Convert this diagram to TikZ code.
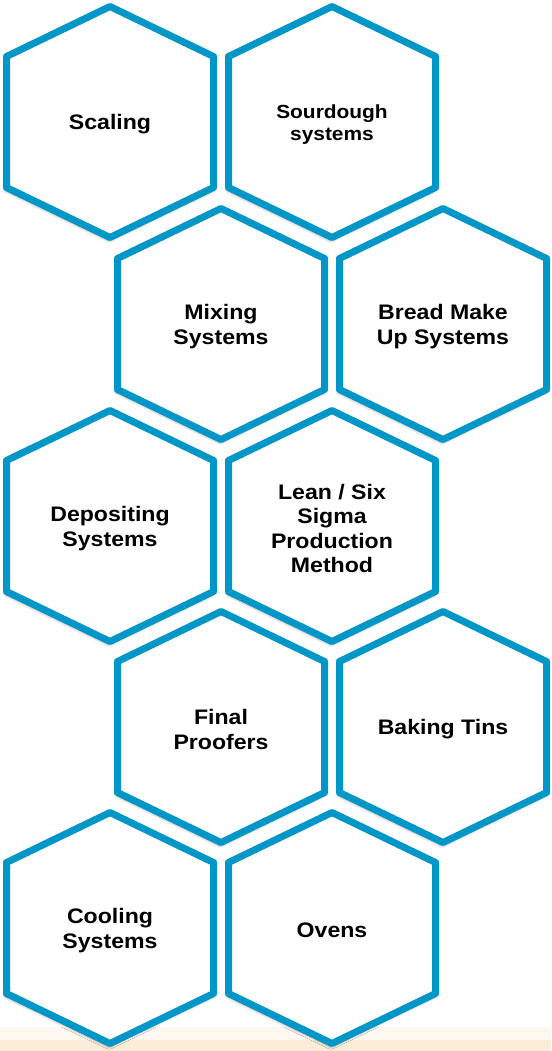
\documentclass[tikz,border=0pt]{standalone}
\usepackage{fontspec}
\setmainfont{Liberation Sans}[FakeStretch=1.1]
\usetikzlibrary{shadows.blur}
\definecolor{hexblue}{RGB}{0,150,199}
\definecolor{peach}{RGB}{252,236,218}
\definecolor{lightpeach}{RGB}{255,248,240}
\tikzset{
  hexline/.style={draw=hexblue, line width=7pt, line join=round, fill=white,
    blur shadow={shadow xshift=-1pt, shadow yshift=-3pt, shadow blur radius=3pt, shadow opacity=45}},
  hextext/.style={align=center, font=\fontsize{21}{24.5}\selectfont\bfseries, text=black, inner sep=0pt, yshift=-2.5pt},
  smalltext/.style={align=center, font=\fontsize{19}{22}\selectfont\bfseries, text=black, inner sep=0pt, yshift=-2.5pt}
}
\newcommand{\hexat}[1]{%
  \path[hexline] (#1) ++(0,-115.5) -- ++(103.5,50) -- ++(0,131) -- ++(-103.5,50) -- ++(-103.5,-50) -- ++(0,-131) -- cycle;}
\begin{document}
\begin{tikzpicture}[x=1pt,y=-1pt]
\useasboundingbox (0,0) rectangle (551,1051);
\fill[lightpeach] (0,1027) rectangle (551,1040);
\fill[peach] (0,1040) rectangle (551,1051);
\coordinate (c1) at (110,122);
\coordinate (c2) at (332,122);
\coordinate (c3) at (221,324);
\coordinate (c4) at (443,324);
\coordinate (c5) at (110,526);
\coordinate (c6) at (332,526);
\coordinate (c7) at (221,727);
\coordinate (c8) at (443,727);
\coordinate (c9) at (110,928);
\coordinate (c10) at (332,928);
\foreach \i in {1,...,10}{\hexat{c\i}}
\node[hextext] (scaling) at (c1) {Scaling};
\node[smalltext] (sourdough) at (c2) {Sourdough\\systems};
\node[hextext] (mixing) at (c3) {Mixing\\Systems};
\node[hextext] (bread) at (c4) {Bread Make\\Up Systems};
\node[hextext] (depositing) at (c5) {Depositing\\Systems};
\node[hextext] (lean) at (c6) {Lean / Six\\Sigma\\Production\\Method};
\node[hextext] (final) at (c7) {Final\\Proofers};
\node[hextext] (baking) at (c8) {Baking Tins};
\node[hextext] (cooling) at (c9) {Cooling\\Systems};
\node[hextext] (ovens) at (c10) {Ovens};
\end{tikzpicture}
\end{document}
